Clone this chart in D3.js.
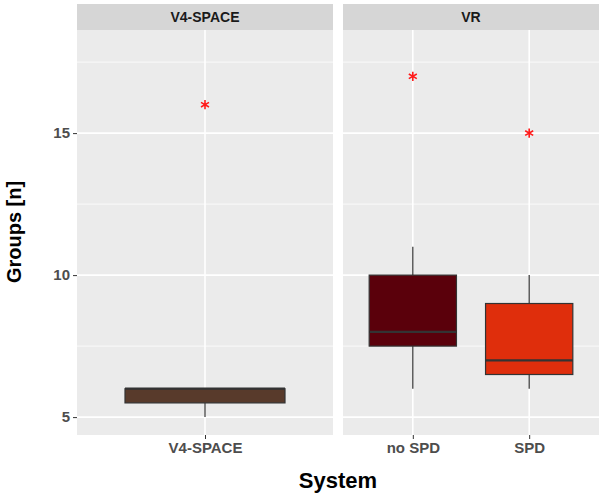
<!DOCTYPE html>
<html>
<head>
<meta charset="utf-8">
<script src="https://cdn.jsdelivr.net/npm/d3@7"></script>
<style>
  body { margin: 0; background: #fff; }
  text { font-family: "Liberation Sans", Arial, sans-serif; }
</style>
</head>
<body>
<svg id="chart" width="602" height="493"></svg>
<script>
// facet panels and the groups inside each
const panels = ["V4-SPACE", "VR"];
const groups = ["V4-SPACE", "no SPD", "SPD"];
const groupPanel = ["V4-SPACE", "VR", "VR"];
// box statistics
const lowerWhisker = [5, 6, 6];
const q1 = [5.5, 7.5, 6.5];
const median = [6, 8, 7];
const q3 = [6, 10, 9];
const upperWhisker = [6, 11, 10];
const outliers = [16, 17, 15];
const yTicks = [5, 10, 15];
const yMinor = [7.5, 12.5, 17.5];

const fills = ["#583a2b", "#5a000b", "#df2e0c"];
const boxWidth = 0.75; // in category units, like ggplot

const svg = d3.select("#chart");
const plotTop = 30, plotBottom = 435;
const panelX = { "V4-SPACE": [77, 333], "VR": [343, 599] };

const y = d3.scaleLinear().domain([4.37, 18.63]).range([plotBottom, plotTop]);

function styleTicks(sel) {
  sel.select(".domain").remove();
  sel.selectAll("line").attr("stroke", "#333").attr("stroke-width", 1);
  sel.selectAll("text").attr("fill", "#4d4d4d").style("font-size", "15px")
    .style("font-weight", "bold").style("font-family", "Liberation Sans, Arial, sans-serif");
}

// y axis tick labels and marks
svg.append("g").attr("transform", `translate(77,0)`)
  .call(d3.axisLeft(y).tickValues(yTicks).tickSize(4).tickPadding(3))
  .call(styleTicks);

const star = d3.symbol(d3.symbolAsterisk, 60);

panels.forEach(p => {
  const [x0, x1] = panelX[p];
  const cats = groups.filter((g, i) => groupPanel[i] === p);
  const x = d3.scalePoint().domain(cats).range([x0, x1]).padding(0.6);
  const g = svg.append("g");

  // strip
  g.append("rect").attr("x", x0).attr("y", 4).attr("width", x1 - x0).attr("height", plotTop - 4)
    .attr("fill", "#d6d6d6");
  g.append("text").attr("x", (x0 + x1) / 2).attr("y", 17).attr("dy", "0.35em")
    .attr("text-anchor", "middle").attr("fill", "#1a1a1a")
    .style("font-size", "14px").style("font-weight", "bold").text(p);

  // panel background + grid
  g.append("rect").attr("x", x0).attr("y", plotTop).attr("width", x1 - x0).attr("height", plotBottom - plotTop)
    .attr("fill", "#ebebeb");
  g.selectAll(".minor").data(yMinor).join("line")
    .attr("x1", x0).attr("x2", x1).attr("y1", d => y(d)).attr("y2", d => y(d))
    .attr("stroke", "#fff").attr("stroke-width", 0.8);
  g.selectAll(".major").data(yTicks).join("line")
    .attr("x1", x0).attr("x2", x1).attr("y1", d => y(d)).attr("y2", d => y(d))
    .attr("stroke", "#fff").attr("stroke-width", 1.6);
  g.selectAll(".vgrid").data(cats).join("line")
    .attr("x1", d => x(d)).attr("x2", d => x(d)).attr("y1", plotTop).attr("y2", plotBottom)
    .attr("stroke", "#fff").attr("stroke-width", 1.6);

  // x axis
  svg.append("g").attr("transform", `translate(0,${plotBottom})`)
    .call(d3.axisBottom(x).tickSize(4).tickPadding(3))
    .call(styleTicks);

  // boxes
  const step = x.step();
  cats.forEach(c => {
    const i = groups.indexOf(c);
    const cx = x(c), hw = boxWidth * step / 2;
    g.append("line").attr("x1", cx).attr("x2", cx)
      .attr("y1", y(upperWhisker[i])).attr("y2", y(q3[i]))
      .attr("stroke", "#333").attr("stroke-width", 1.2);
    g.append("line").attr("x1", cx).attr("x2", cx)
      .attr("y1", y(q1[i])).attr("y2", y(lowerWhisker[i]))
      .attr("stroke", "#333").attr("stroke-width", 1.2);
    g.append("rect").attr("x", cx - hw).attr("y", y(q3[i]))
      .attr("width", 2 * hw).attr("height", y(q1[i]) - y(q3[i]))
      .attr("fill", fills[i]).attr("stroke", "#333").attr("stroke-width", 1.2);
    g.append("line").attr("x1", cx - hw).attr("x2", cx + hw)
      .attr("y1", y(median[i])).attr("y2", y(median[i]))
      .attr("stroke", "#333").attr("stroke-width", 2.2);
    g.append("path").attr("d", star)
      .attr("transform", `translate(${cx},${y(outliers[i])})`)
      .attr("fill", "none").attr("stroke", "#ff1a1a").attr("stroke-width", 1.6);
  });
});

// axis titles
svg.append("text").attr("x", 338).attr("y", 488).attr("text-anchor", "middle")
  .attr("fill", "#000").style("font-size", "22px").style("font-weight", "bold").text("System");
svg.append("text").attr("transform", "translate(21,232) rotate(-90)").attr("text-anchor", "middle")
  .attr("fill", "#000").style("font-size", "20px").style("font-weight", "bold").text("Groups [n]");
</script>
</body>
</html>
